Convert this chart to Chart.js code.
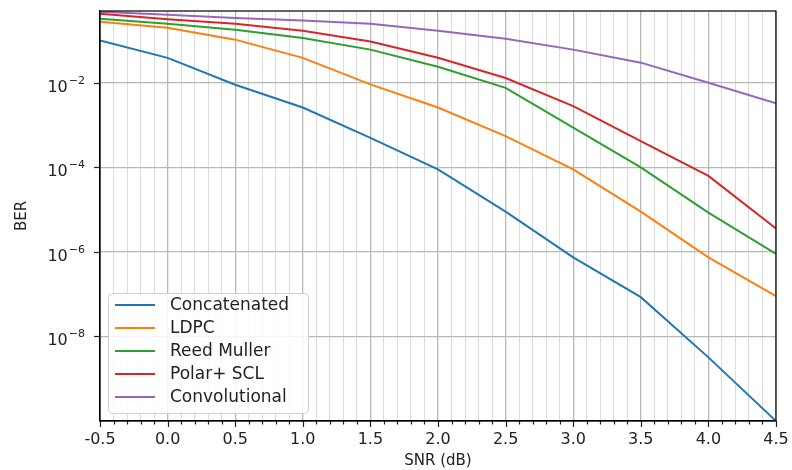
<!DOCTYPE html>
<html>
<head>
<meta charset="utf-8">
<script src="https://cdn.jsdelivr.net/npm/chart.js@4/dist/chart.umd.min.js"></script>
<style>
  html, body { margin: 0; padding: 0; background: #fff; }
  #wrap { width: 792px; height: 470px; }
</style>
</head>
<body>
<div id="wrap"><canvas id="ber-chart" width="792" height="470"></canvas></div>
<script>
// SNR points (dB)
const snr = [-0.5, 0.0, 0.5, 1.0, 1.5, 2.0, 2.5, 3.0, 3.5, 4.0, 4.5];

// BER
const concatenated = [0.10, 0.039, 0.009, 0.0026, 5.0e-4, 9.0e-5, 9.0e-6, 7.4e-7, 8.5e-8, 3.2e-9, 1.0e-10];
const ldpc = [0.28, 0.20, 0.105, 0.039, 0.0092, 0.0026, 5.5e-4, 9.0e-5, 9.0e-6, 7.4e-7, 9.0e-8];
const reedMuller = [0.33, 0.25, 0.18, 0.115, 0.061, 0.024, 0.0076, 8.7e-4, 1.0e-4, 8.5e-6, 9.0e-7];
const polarScl = [0.43, 0.32, 0.25, 0.17, 0.095, 0.039, 0.013, 0.0028, 4.2e-4, 6.3e-5, 3.6e-6];
const convolutional = [0.48, 0.41, 0.34, 0.30, 0.25, 0.17, 0.11, 0.061, 0.03, 0.01, 0.0033];

const seriesNames = ['Concatenated', 'LDPC', 'Reed Muller', 'Polar+ SCL', 'Convolutional'];
const seriesColors = ['#1f77b4', '#ff7f0e', '#2ca02c', '#d62728', '#9467bd'];

// y ticks: value, base and exponent text
const yTicks = [1e-8, 1e-6, 1e-4, 1e-2];
const yTickExp = ['\u22128', '\u22126', '\u22124', '\u22122'];

const FONT = "'DejaVu Sans', sans-serif";
const TEXT = '#222';

function isMajor(v) {
    return Math.abs(v * 2 - Math.round(v * 2)) < 1e-6;
}

// frame, tick marks, y tick labels and the legend box
const framePlugin = {
    id: 'frame',
    afterDraw(chart) {
        const ctx = chart.ctx;
        const a = chart.chartArea;
        const xs = chart.scales.x;
        const ys = chart.scales.y;
        ctx.save();

        // x tick marks (major longer)
        ctx.strokeStyle = '#222';
        ctx.lineWidth = 1.2;
        xs.ticks.forEach(function (t) {
            const px = Math.round(xs.getPixelForValue(t.value)) + 0.5;
            const len = isMajor(t.value) ? 6 : 3.5;
            ctx.beginPath();
            ctx.moveTo(px, a.bottom);
            ctx.lineTo(px, a.bottom + len);
            ctx.stroke();
        });

        // y tick marks + labels like 10^-2
        ctx.textBaseline = 'alphabetic';
        yTicks.forEach(function (v, i) {
            const py = Math.round(ys.getPixelForValue(v)) + 0.5;
            ctx.beginPath();
            ctx.moveTo(a.left - 6, py);
            ctx.lineTo(a.left, py);
            ctx.stroke();

            ctx.fillStyle = TEXT;
            ctx.textAlign = 'right';
            ctx.font = '11px ' + FONT;
            const right = a.left - 15;
            ctx.fillText(yTickExp[i], right, py + 0);
            const ew = ctx.measureText(yTickExp[i]).width;
            ctx.font = '16px ' + FONT;
            ctx.fillText('10', right - ew - 1, py + 8);
        });

        // frame
        ctx.strokeStyle = '#000';
        ctx.lineWidth = 1.2;
        ctx.strokeRect(a.left, a.top, a.right - a.left, a.bottom - a.top);

        // legend
        const bx = a.left + 8, by = a.top + 282, bw = 200, bh = 120;
        ctx.fillStyle = 'rgba(255,255,255,0.85)';
        ctx.strokeStyle = '#d0d0d0';
        ctx.lineWidth = 1;
        ctx.beginPath();
        ctx.roundRect(bx + 0.5, by + 0.5, bw, bh, 4);
        ctx.fill();
        ctx.stroke();

        ctx.font = '17px ' + FONT;
        ctx.textBaseline = 'middle';
        ctx.textAlign = 'left';
        chart.data.datasets.forEach(function (ds, i) {
            const yy = by + 12 + i * 23;
            ctx.strokeStyle = ds.borderColor;
            ctx.lineWidth = 2;
            ctx.beginPath();
            ctx.moveTo(bx + 7, yy);
            ctx.lineTo(bx + 47, yy);
            ctx.stroke();
            ctx.fillStyle = TEXT;
            ctx.fillText(ds.label, bx + 62, yy + 1);
        });
        ctx.restore();
    }
};

const series = [concatenated, ldpc, reedMuller, polarScl, convolutional];

new Chart(document.getElementById('ber-chart'), {
    type: 'line',
    data: {
        datasets: series.map(function (vals, i) {
            return {
                label: seriesNames[i],
                data: snr.map(function (x, j) { return { x: x, y: vals[j] }; }),
                borderColor: seriesColors[i],
                backgroundColor: seriesColors[i],
                borderWidth: 2,
                pointRadius: 0,
                tension: 0,
                fill: false
            };
        })
    },
    options: {
        responsive: false,
        animation: false,
        layout: { padding: { left: 0, right: 16, top: 11, bottom: 0 } },
        plugins: {
            legend: { display: false },
            tooltip: { enabled: false }
        },
        scales: {
            x: {
                type: 'linear',
                min: -0.5,
                max: 4.5,
                afterFit: function (scale) {
                    scale.height = 49;
                    scale.paddingLeft = 0;
                    scale.paddingRight = 0;
                },
                ticks: {
                    stepSize: 0.1,
                    autoSkip: false,
                    maxRotation: 0,
                    padding: 9,
                    color: TEXT,
                    font: { family: FONT, size: 16 },
                    callback: function (v) { return isMajor(v) ? v.toFixed(1) : ''; }
                },
                grid: {
                    color: function (c) { return isMajor(c.tick.value) ? '#b8b8b8' : '#dcdcdc'; },
                    lineWidth: function (c) { return isMajor(c.tick.value) ? 1.3 : 1; },
                    drawTicks: false,
                    tickLength: 6
                },
                border: { color: '#000', width: 1.2 },
                title: {
                    display: true,
                    text: 'SNR (dB)',
                    color: TEXT,
                    font: { family: FONT, size: 15 },
                    padding: { top: 0, bottom: 0 }
                }
            },
            y: {
                type: 'logarithmic',
                min: 1e-10,
                max: 0.5,
                afterFit: function (scale) {
                    scale.width = 100;
                    scale.paddingTop = 0;
                    scale.paddingBottom = 0;
                },
                afterBuildTicks: function (scale) {
                    scale.ticks = yTicks.map(function (v) { return { value: v }; });
                },
                ticks: {
                    display: false
                },
                grid: {
                    color: '#b8b8b8',
                    lineWidth: 1.3,
                    drawTicks: false
                },
                border: { color: '#000', width: 1.2 },
                title: {
                    display: true,
                    text: 'BER',
                    color: TEXT,
                    font: { family: FONT, size: 15 },
                    padding: { top: 13, bottom: 0 }
                }
            }
        }
    },
    plugins: [framePlugin]
});
</script>
</body>
</html>
